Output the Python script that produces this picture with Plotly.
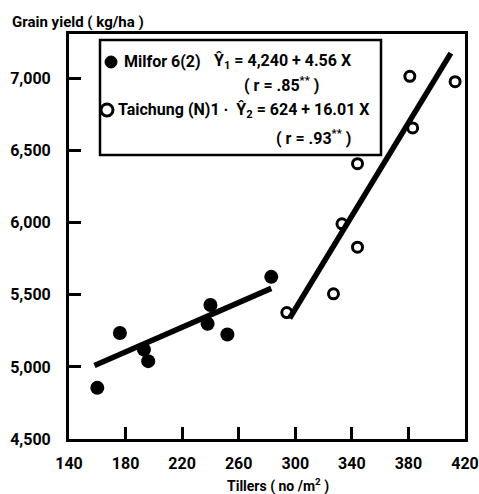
import plotly.graph_objects as go

# Milfor 6(2) - filled circles
milfor_tillers = [160, 176, 193, 196, 238, 240, 252, 283]
milfor_yield = [4855, 5235, 5120, 5040, 5300, 5430, 5225, 5625]
milfor_fit_x = [158, 283]
milfor_fit_y = [5010, 5545]

# Taichung (N)1 - open circles
taichung_tillers = [294, 327, 333, 344, 344, 381, 383, 413]
taichung_yield = [5377, 5507, 5993, 5831, 6410, 7016, 6658, 6979]
taichung_fit_x = [296, 410]
taichung_fit_y = [5338, 7177]

x_ticks = [140, 180, 220, 260, 300, 340, 380, 420]
y_ticks = [4500, 5000, 5500, 6000, 6500, 7000]

FONT = "Roboto"

# plot area in pixels (for placing the text box)
L, R, T, B = 69, 465, 34, 439


def px(x):
    return (x - L) / (R - L)


def py(y):
    return (B - y) / (B - T)


fig = go.Figure()

fig.add_trace(go.Scatter(x=milfor_tillers, y=milfor_yield, mode="markers",
                         marker=dict(color="black", size=14), showlegend=False))
fig.add_trace(go.Scatter(x=taichung_tillers, y=taichung_yield, mode="markers",
                         marker=dict(symbol="circle-open", color="black", size=10,
                                     line=dict(width=3, color="black")),
                         showlegend=False))
fig.add_trace(go.Scatter(x=milfor_fit_x, y=milfor_fit_y, mode="lines",
                         line=dict(color="black", width=5.5), showlegend=False))
fig.add_trace(go.Scatter(x=taichung_fit_x, y=taichung_fit_y, mode="lines",
                         line=dict(color="black", width=5.5), showlegend=False))

axis_font = dict(family=FONT, size=16, color="black", weight="bold")

fig.update_xaxes(range=[140, 420], tickvals=x_ticks, ticks="inside", ticklen=12,
                 tickwidth=2.5, tickcolor="black", showline=True, linewidth=3,
                 linecolor="black", mirror=True, showgrid=False, zeroline=False,
                 tickfont=axis_font, ticklabelstandoff=8)
fig.update_yaxes(range=[4500, 7310], tickvals=y_ticks, tickformat=",", ticks="inside",
                 ticklen=12, tickwidth=2.5, tickcolor="black", showline=True,
                 linewidth=3, linecolor="black", mirror=True, showgrid=False,
                 zeroline=False, tickfont=axis_font, ticklabelstandoff=12)

# equation box
fig.add_shape(type="rect", xref="paper", yref="paper",
              x0=px(100), x1=px(381), y0=py(155), y1=py(40),
              line=dict(color="black", width=2.5), fillcolor="white", layer="above")

# key symbols inside the box
for cx, cy, filled in [(111, 62, True), (107, 110, False)]:
    fig.add_shape(type="circle", xref="paper", yref="paper",
                  xsizemode="pixel", ysizemode="pixel",
                  xanchor=px(cx), yanchor=py(cy), x0=-6, x1=6, y0=-6, y1=6,
                  line=dict(color="black", width=3 if not filled else 1),
                  fillcolor="black" if filled else "white", layer="above")

txt = dict(family=FONT, size=15, color="black", weight="bold")
notes = [
    ("Milfor 6(2)", 122, 62),
    ("Ŷ<sub>1</sub> = 4,240 + 4.56 X", 212, 61),
    ("( r = .85<sup>**</sup> )", 242, 84),
    ("Taichung (N)1 ·  Ŷ<sub>2</sub> = 624 + 16.01 X", 116, 110),
    ("( r = .93<sup>**</sup> )", 274, 137),
]
for text, x, y in notes:
    fig.add_annotation(text=text, xref="paper", yref="paper", x=px(x), y=py(y),
                       xanchor="left", yanchor="middle", showarrow=False,
                       font=dict(txt, size=16))

fig.add_annotation(text="Grain yield ( kg/ha )", xref="paper", yref="paper",
                   x=px(10), y=py(22), xanchor="left", yanchor="middle",
                   showarrow=False, font=txt)
fig.add_annotation(text="Tillers ( no /m<sup>2</sup> )", xref="paper", yref="paper",
                   x=px(278), y=py(485), xanchor="center", yanchor="middle",
                   showarrow=False, font=dict(txt, size=14))

fig.update_layout(width=479, height=494, plot_bgcolor="white", paper_bgcolor="white",
                  margin=dict(l=L, r=479 - R, t=T, b=494 - B, autoexpand=False),
                  font=dict(family=FONT, color="black"))

# the page's default 8px body margin would shift the whole figure
fig.write_html("out.html", config={"displayModeBar": False},
               post_script="document.body.style.margin='0';")
